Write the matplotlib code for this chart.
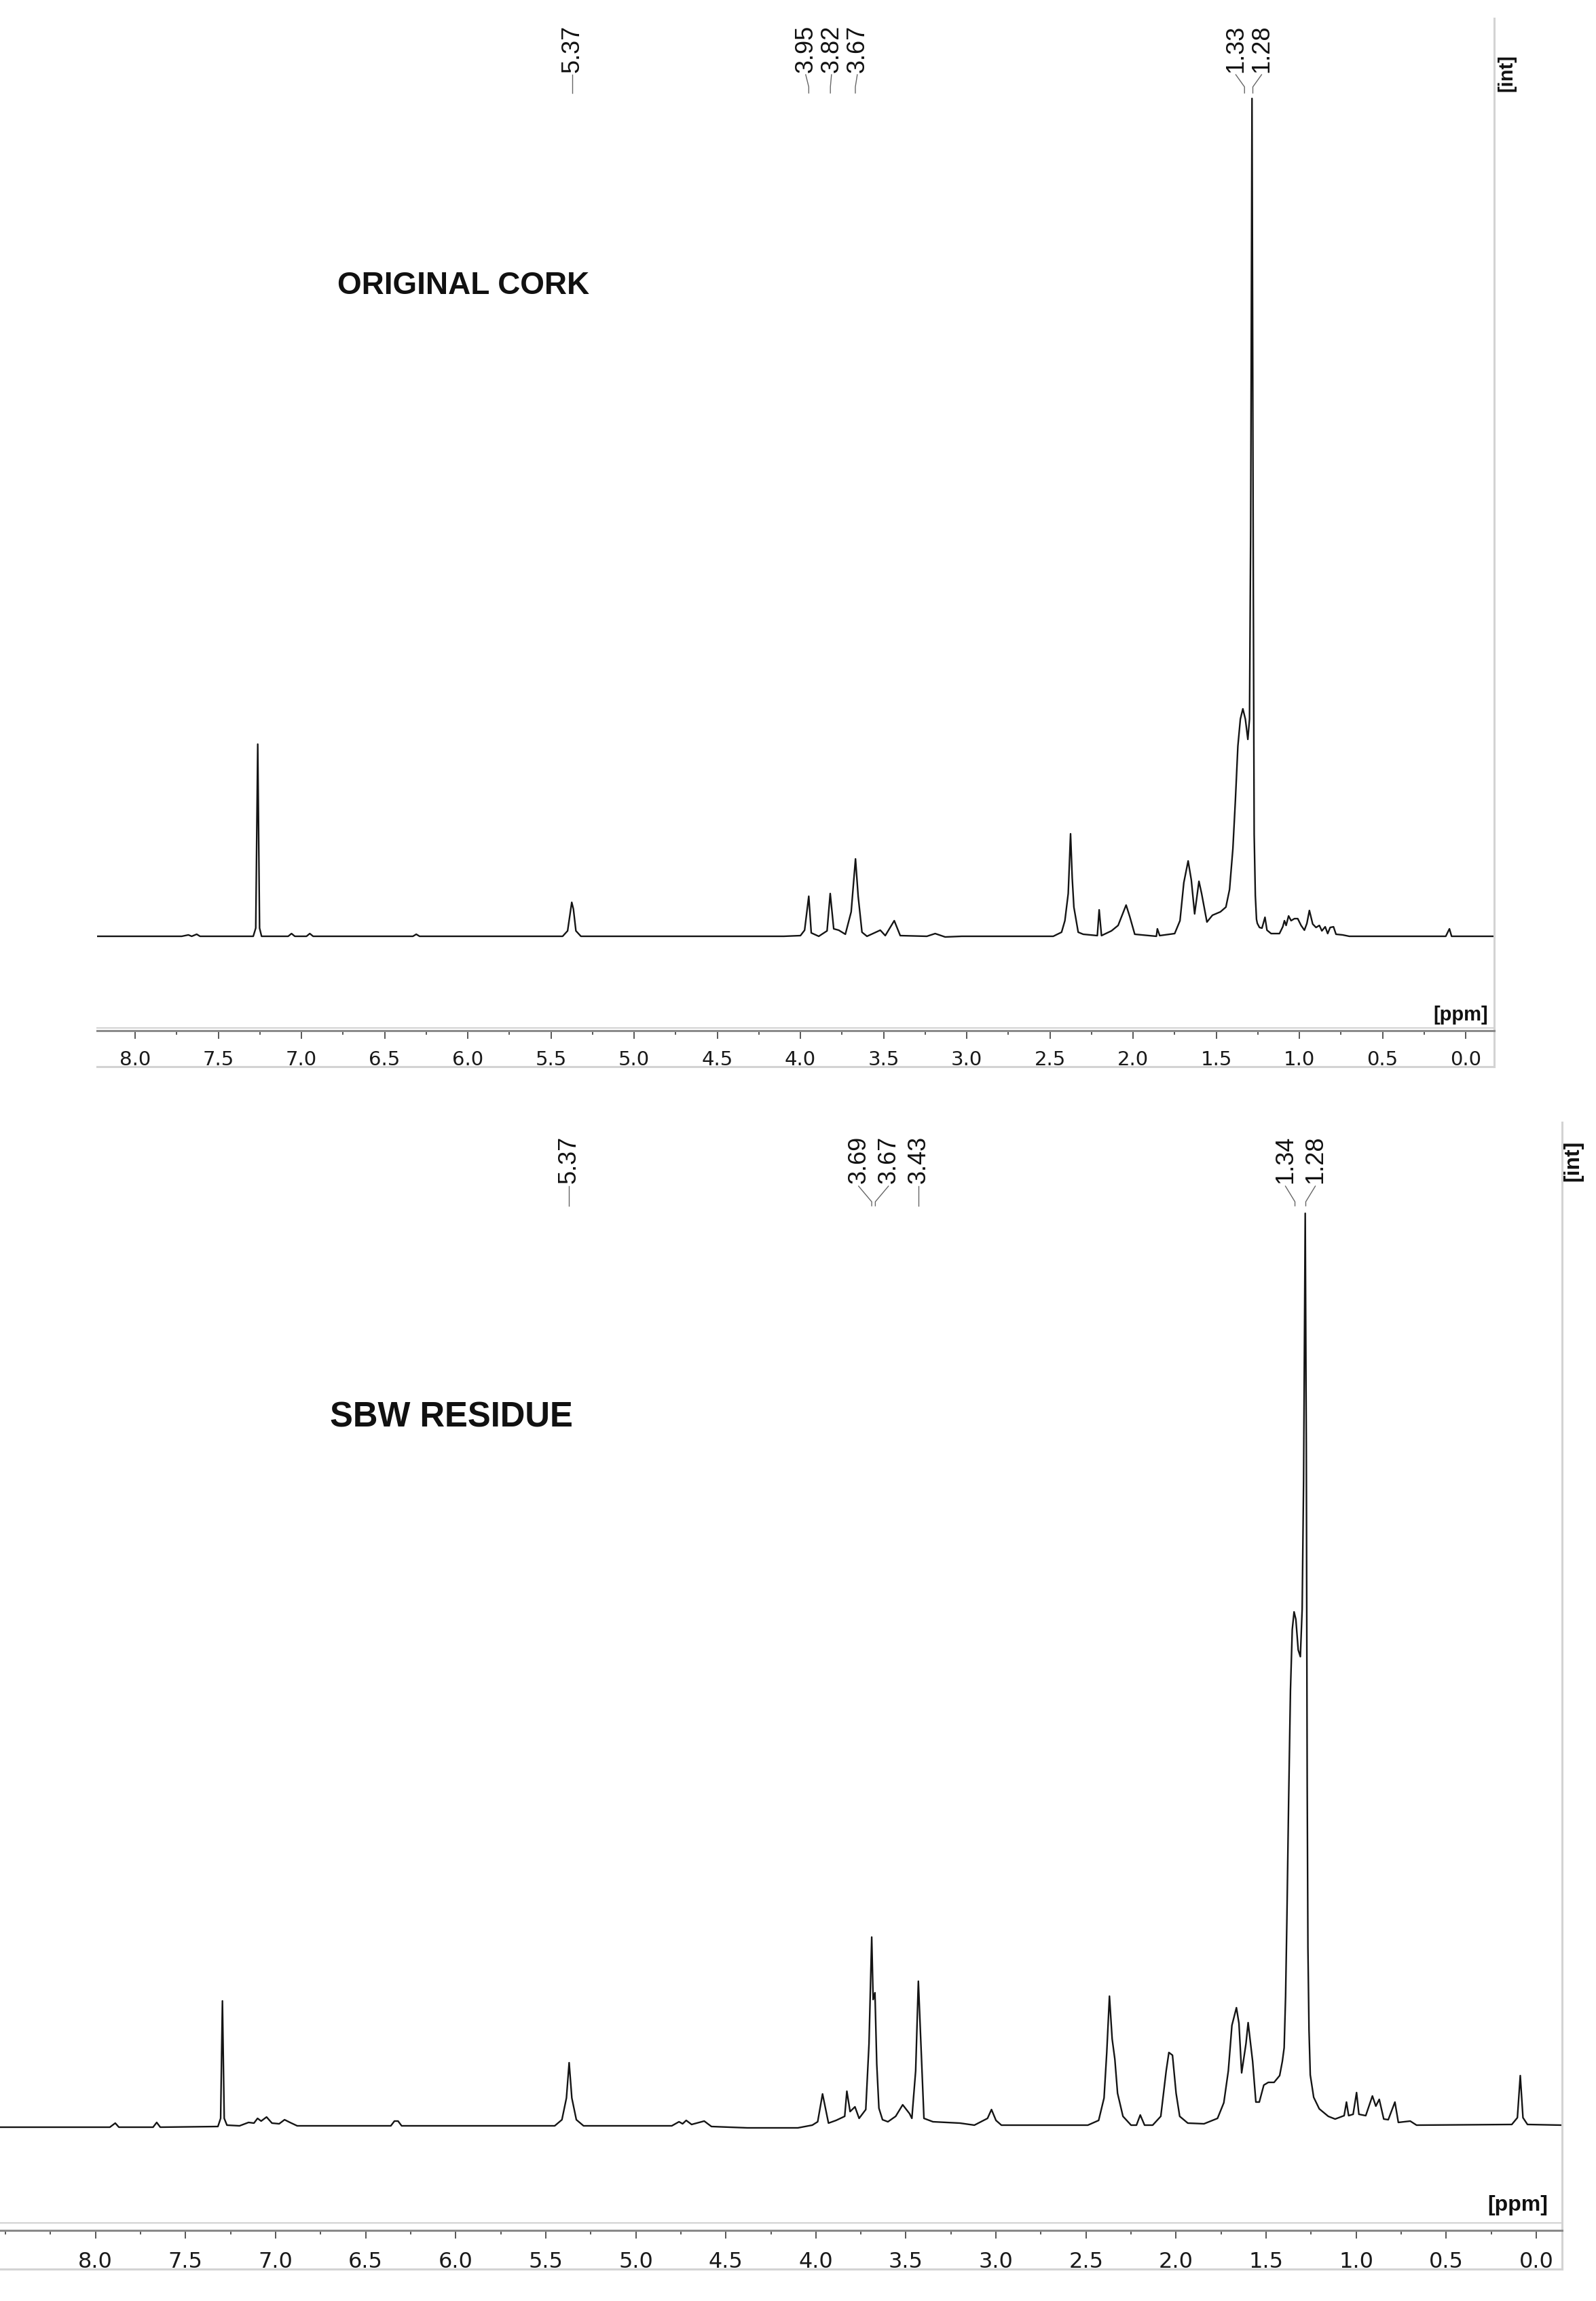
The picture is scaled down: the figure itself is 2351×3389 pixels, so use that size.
import numpy as np
import matplotlib
matplotlib.use("Agg")
import matplotlib.pyplot as plt
from matplotlib.ticker import FixedLocator, MultipleLocator, FormatStrFormatter
from matplotlib.transforms import blended_transform_factory

# ---------------- data ----------------
# ORIGINAL CORK: chemical shift (ppm) / intensity (arb. units)
cork_ppm = [
    8.23, 7.72, 7.68, 7.66, 7.63, 7.61,
    7.29, 7.275, 7.263, 7.252, 7.24,
    7.08, 7.06, 7.04, 6.97, 6.95, 6.93,
    6.33, 6.31, 6.29,
    5.43, 5.40, 5.375, 5.365, 5.35, 5.32,
    4.10, 4.00, 3.975, 3.950, 3.935, 3.89,
    3.84, 3.821, 3.80, 3.77, 3.73,
    3.695, 3.669, 3.653, 3.63, 3.60,
    3.52, 3.49, 3.436, 3.40, 3.24, 3.19, 3.13, 3.03,
    2.48, 2.43, 2.41, 2.39, 2.376, 2.366, 2.356, 2.33, 2.30,
    2.215, 2.204, 2.19, 2.13, 2.09, 2.042, 2.02, 1.99,
    1.86, 1.854, 1.84, 1.75, 1.718, 1.695, 1.669, 1.65, 1.63,
    1.604, 1.588, 1.556, 1.523, 1.475, 1.442, 1.42, 1.40,
    1.385, 1.37, 1.355, 1.34, 1.325, 1.31, 1.30, 1.293,
    1.285, 1.277, 1.272, 1.265, 1.258, 1.253, 1.24, 1.225,
    1.207, 1.195, 1.17, 1.12, 1.10, 1.09, 1.08, 1.065, 1.05,
    1.03, 1.01, 0.99, 0.97, 0.955, 0.94, 0.92, 0.90, 0.88,
    0.865, 0.845, 0.83, 0.815, 0.795, 0.78, 0.74, 0.70,
    0.12, 0.098, 0.085, -0.17]
cork_int = [
    0, 0, 2, 0, 3, 0,
    0, 12, 283, 12, 0,
    0, 4, 0, 0, 4, 0,
    0, 3, 0,
    0, 8, 50, 40, 8, 0,
    0, 1, 9, 59, 5, 0,
    8, 63, 11, 9, 3,
    36, 114, 59, 6, 0,
    9, 1, 23, 1, 0, 4, -1, 0,
    0, 6, 23, 63, 151, 86, 43, 6, 3,
    1, 39, 1, 8, 16, 46, 29, 3,
    0, 11, 1, 4, 23, 79, 111, 83, 33,
    81, 63, 21, 31, 36, 43, 69, 129,
    200, 280, 320, 335, 320, 290, 320, 600,
    1234, 500, 150, 60, 25, 19, 13, 12,
    28, 9, 4, 4, 14, 23, 16, 30, 23,
    26, 26, 16, 9, 19, 38, 18, 13, 16,
    8, 14, 4, 13, 14, 3, 2, 0,
    0, 11, 0, 0]
cork_labels = [5.37, 3.95, 3.82, 3.67, 1.33, 1.28]

# SBW RESIDUE: chemical shift (ppm) / intensity (arb. units)
sbw_ppm = [
    8.53, 7.92, 7.89, 7.87, 7.68, 7.66, 7.64,
    7.32, 7.305, 7.295, 7.285, 7.27, 7.20,
    7.15, 7.12, 7.10, 7.08, 7.05, 7.02, 6.98, 6.95, 6.92, 6.88,
    6.36, 6.34, 6.32, 6.30,
    5.45, 5.41, 5.385, 5.37, 5.355, 5.33, 5.29,
    4.80, 4.76, 4.74, 4.72, 4.69, 4.62, 4.58,
    4.38, 4.10, 4.02, 3.99, 3.963, 3.93, 3.888,
    3.84, 3.828, 3.81, 3.783, 3.76, 3.723,
    3.705, 3.69, 3.682, 3.672, 3.662, 3.65, 3.63, 3.60,
    3.557, 3.518, 3.48, 3.467, 3.446, 3.431, 3.416, 3.40,
    3.35, 3.20, 3.12, 3.047, 3.025, 3.00, 2.97,
    2.49, 2.43, 2.40, 2.385, 2.37, 2.355, 2.34, 2.325, 2.295, 2.25,
    2.22, 2.199, 2.175, 2.13, 2.085, 2.055, 2.04, 2.02, 2.00, 1.98,
    1.935, 1.845, 1.77, 1.735, 1.71, 1.69, 1.665, 1.651, 1.636,
    1.612, 1.600, 1.588, 1.575, 1.557, 1.538, 1.513, 1.488, 1.456, 1.425, 1.41, 1.40,
    1.392, 1.385, 1.375, 1.365, 1.355, 1.345, 1.335, 1.322, 1.31, 1.30, 1.292,
    1.283, 1.277, 1.272, 1.268, 1.262, 1.255, 1.236, 1.205, 1.155, 1.117,
    1.067, 1.054, 1.042, 1.017, 0.998, 0.985, 0.947, 0.910, 0.891, 0.872,
    0.847, 0.822, 0.785, 0.766, 0.70, 0.665,
    0.136, 0.105, 0.089, 0.074, 0.049, -0.143]
sbw_int = [
    -3, -3, 3, -3, -3, 4, -3,
    -2, 10, 183, 10, 0, -1,
    4, 3, 10, 6, 12, 3, 2, 8, 4, -1,
    -1, 6, 6, -1,
    -1, 8, 40, 92, 40, 8, -1,
    -1, 5, 2, 7, 1, 6, -2,
    -4, -4, 0, 5, 46, 3, 7,
    13, 50, 20, 27, 10, 23,
    120, 277, 185, 195, 90, 25, 8, 5,
    13, 30, 17, 10, 80, 212, 113, 10,
    5, 3, 0, 10, 23, 7, 0,
    0, 7, 40, 107, 190, 127, 97, 47, 13, 0,
    0, 15, 0, 0, 13, 80, 107, 103, 47, 13,
    3, 2, 10, 33, 80, 147, 173, 150, 77,
    120, 151, 124, 94, 34, 34, 59, 63, 63, 73, 94, 114,
    190, 300, 480, 640, 730, 756, 745, 700, 690, 760, 950,
    1343, 1000, 500, 261, 140, 74, 41, 24, 13, 9,
    14, 34, 14, 16, 48, 16, 14, 43, 28, 38,
    9, 8, 34, 4, 6, 0,
    1, 11, 73, 11, 1, 0]
sbw_labels = [5.37, 3.69, 3.67, 3.43, 1.34, 1.28]

tick_values = [8.0, 7.5, 7.0, 6.5, 6.0, 5.5, 5.0, 4.5, 4.0,
               3.5, 3.0, 2.5, 2.0, 1.5, 1.0, 0.5, 0.0]
titles = ["ORIGINAL CORK", "SBW RESIDUE"]

# ---------------- layout (pixels of the 2351x3389 canvas) ----------------
W, H = 2351, 3389
fig = plt.figure(figsize=(W / 100, H / 100), dpi=100)
fig.patch.set_facecolor("white")

panels = [
    dict(ppm=cork_ppm, inten=cork_int, labels=cork_labels, title=titles[0],
         left=143, right=2201, top=27, axis=1518, base=1379, frame=1571, light=1514,
         xlim=(8.229, -0.171), lab_bottom=107, conn=(110, 128, 137), gap=38,
         title_xy=(497, 433), title_fs=33, ppm_xy=(2192, 1495), int_xy=(2219, 108),
         unit_fs=21, tick_fs=21, peak_fs=26, tick_pad=12),
    dict(ppm=sbw_ppm, inten=sbw_int, labels=sbw_labels, title=titles[1],
         left=0, right=2301, top=1653, axis=3285, base=3130, frame=3342, light=3274,
         xlim=(8.530, -0.143), lab_bottom=1743, conn=(1747, 1770, 1776), gap=44,
         title_xy=(486, 2102), title_fs=36.5, ppm_xy=(2280, 3248), int_xy=(2317, 1710),
         unit_fs=23, tick_fs=23, peak_fs=26, tick_pad=14),
]


def spread(positions, gap):
    """Spread label positions (increasing order) so that they are >= gap apart."""
    clusters = [[p] for p in positions]

    def place(cl):
        c = float(np.mean(cl))
        n = len(cl)
        return [c + (i - (n - 1) / 2) * gap for i in range(n)]

    changed = True
    while changed:
        changed = False
        for i in range(len(clusters) - 1):
            a, b = place(clusters[i]), place(clusters[i + 1])
            if b[0] - a[-1] < gap:
                clusters[i] = clusters[i] + clusters[i + 1]
                del clusters[i + 1]
                changed = True
                break
    out = []
    for cl in clusters:
        out += place(cl)
    return out


GRAY_LIGHT = "#d3d3d3"
for P in panels:
    ax_h = P["axis"] - P["top"]
    ax = fig.add_axes([P["left"] / W, 1 - P["axis"] / H,
                       (P["right"] - P["left"]) / W, ax_h / H])
    ax.patch.set_alpha(0)
    ax.plot(P["ppm"], P["inten"], color="#141414", lw=1.7, solid_joinstyle="round")
    ax.set_xlim(*P["xlim"])
    ax.set_ylim(-(P["axis"] - P["base"]), P["base"] - P["top"])

    for s in ("top", "left", "right"):
        ax.spines[s].set_visible(False)
    ax.spines["bottom"].set_color("#8a8a8a")
    ax.spines["bottom"].set_linewidth(2.2)
    ax.set_yticks([])
    ax.xaxis.set_major_locator(FixedLocator(tick_values))
    ax.xaxis.set_major_formatter(FormatStrFormatter("%.1f"))
    ax.xaxis.set_minor_locator(MultipleLocator(0.25))
    ax.tick_params(axis="x", which="major", direction="out", length=8.6, width=1.3,
                   color="#4a4a4a", pad=P["tick_pad"], labelsize=P["tick_fs"],
                   labelcolor="#1a1a1a")
    ax.tick_params(axis="x", which="minor", direction="out", length=4.3, width=1.3,
                   color="#4a4a4a")
    for lab in ax.get_xticklabels():
        lab.set_fontfamily("DejaVu Sans")

    def yfrac(py, P=P, ax_h=ax_h):
        return (P["axis"] - py) / ax_h

    # frame lines
    ax.plot([0, 1], [yfrac(P["light"])] * 2, transform=ax.transAxes,
            color=GRAY_LIGHT, lw=1.5, clip_on=False)
    ax.plot([0, 1], [yfrac(P["frame"])] * 2, transform=ax.transAxes,
            color=GRAY_LIGHT, lw=2.2, clip_on=False)
    ax.plot([1, 1], [yfrac(P["frame"]), 1], transform=ax.transAxes,
            color=GRAY_LIGHT, lw=2.2, clip_on=False)

    # peak labels with connectors
    trans = blended_transform_factory(ax.transData, ax.transAxes)
    px_per_ppm = (P["right"] - P["left"]) / (P["xlim"][0] - P["xlim"][1])
    peaks = sorted(P["labels"], reverse=True)
    u = spread([-p for p in peaks], P["gap"] / px_per_ppm)
    for p, lu in zip(peaks, u):
        lx = -lu
        ax.text(lx, yfrac(P["lab_bottom"]), f"{p:.2f}", transform=trans, rotation=90,
                ha="center", va="bottom", fontsize=P["peak_fs"],
                family="Liberation Sans", color="#111111")
        c0, c1, c2 = P["conn"]
        ax.plot([lx, p, p], [yfrac(c0), yfrac(c1), yfrac(c2)], transform=trans,
                color="#666666", lw=1.0, clip_on=False)

    # titles and unit labels
    tx, ty = P["title_xy"]
    fig.text(tx / W, 1 - ty / H, P["title"], fontsize=P["title_fs"], weight="bold",
             family="Liberation Sans", ha="left", va="baseline", color="#111111")
    ux, uy = P["ppm_xy"]
    fig.text(ux / W, 1 - uy / H, "[ppm]", fontsize=P["unit_fs"], weight="bold",
             family="Liberation Sans", ha="right", va="center", color="#111111")
    ix, iy = P["int_xy"]
    fig.text(ix / W, 1 - iy / H, "[int]", fontsize=P["unit_fs"], weight="bold",
             family="Liberation Sans", ha="center", va="center", rotation=90,
             color="#111111")

fig.savefig("out.png", dpi=100, facecolor="white")
